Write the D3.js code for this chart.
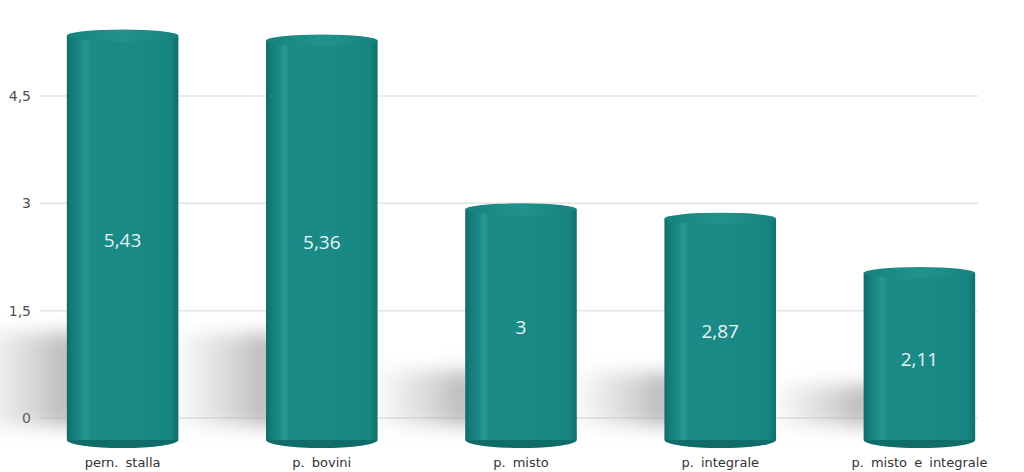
<!DOCTYPE html>
<html>
<head>
<meta charset="utf-8">
<script src="https://cdn.jsdelivr.net/npm/d3@7"></script>
<style>
  html, body { margin: 0; padding: 0; background: #fff; }
  svg { display: block; }
</style>
</head>
<body>
<div id="chart"></div>
<script>
// chart data
const categories = ["pern. stalla", "p. bovini", "p. misto", "p. integrale", "p. misto e integrale"];
const values = [5.43, 5.36, 3, 2.87, 2.11];
const tickValues = [0, 1.5, 3, 4.5];

const width = 1024, height = 472;

const svg = d3.select('#chart').append('svg')
    .attr('width', width)
    .attr('height', height);

// italian number format (comma as decimal)
const it = d3.formatLocale({ decimal: ",", thousands: ".", grouping: [3], currency: ["€", ""] });
const fmt = v => it.format("~g")(v);

const x = d3.scaleBand()
    .domain(categories)
    .range([23, 1019])
    .paddingInner(0.44)
    .paddingOuter(0.22);

const y = d3.scaleLinear()
    .domain([0, 4.5])
    .range([418, 96]);

const defs = svg.append('defs');

// cylinder body gradient
const body = defs.append('linearGradient').attr('id', 'cylBody')
    .attr('x1', '0%').attr('x2', '100%').attr('y1', '0%').attr('y2', '0%');
[
    [0, '#0f6b68'], [0.04, '#137b77'], [0.12, '#1a8a86'], [0.17, '#2a9893'],
    [0.21, '#1b8b87'], [0.6, '#1a8a86'], [0.93, '#178580'], [1, '#116e6b']
].forEach(s => body.append('stop').attr('offset', s[0]).attr('stop-color', s[1]));

const cap = defs.append('linearGradient').attr('id', 'cylCap')
    .attr('x1', '0%').attr('x2', '100%');
[[0, '#16827d'], [0.5, '#22928d'], [1, '#17827e']]
    .forEach(s => cap.append('stop').attr('offset', s[0]).attr('stop-color', s[1]));

const shade = defs.append('linearGradient').attr('id', 'shadowGrad')
    .attr('x1', '0%').attr('x2', '100%');
[[0, '#8a8a8a', 0], [0.6, '#8a8a8a', 0.35], [1, '#7a7a7a', 0.6]]
    .forEach(s => shade.append('stop').attr('offset', s[0]).attr('stop-color', s[1]).attr('stop-opacity', s[2]));

defs.append('filter').attr('id', 'blur')
    .attr('x', '-50%').attr('y', '-50%').attr('width', '200%').attr('height', '200%')
    .append('feGaussianBlur').attr('stdDeviation', 9);

// gridlines
svg.append('g')
    .selectAll('line')
    .data(tickValues)
    .enter().append('line')
    .attr('x1', 40).attr('x2', 978)
    .attr('y1', d => y(d)).attr('y2', d => y(d))
    .attr('stroke', '#e4e4e4')
    .attr('stroke-width', 1.5);

// y tick labels
svg.append('g')
    .selectAll('text')
    .data(tickValues)
    .enter().append('text')
    .attr('x', 31)
    .attr('y', d => y(d) + 5)
    .attr('text-anchor', 'end')
    .style('font-family', '"DejaVu Sans", Verdana, sans-serif')
    .style('font-size', '14px')
    .style('fill', '#505050')
    .text(d => fmt(d));

const data = categories.map((c, i) => ({ cat: c, value: values[i] }));
const bottom = y(0) + 22;
const capRy = 6, baseRy = 8;

// cast shadows on the left of each cylinder
svg.append('g')
    .selectAll('rect')
    .data(data)
    .enter().append('rect')
    .attr('x', d => x(d.cat) - 95)
    .attr('y', d => y(d.value * 0.22))
    .attr('width', 105)
    .attr('height', d => y(0) + 8 - y(d.value * 0.22))
    .attr('fill', 'url(#shadowGrad)')
    .attr('filter', 'url(#blur)');

const bars = svg.append('g')
    .selectAll('g')
    .data(data)
    .enter().append('g');

// base ellipse
bars.append('ellipse')
    .attr('cx', d => x(d.cat) + x.bandwidth() / 2)
    .attr('cy', bottom)
    .attr('rx', x.bandwidth() / 2)
    .attr('ry', baseRy)
    .attr('fill', '#106c69');

// body
bars.append('rect')
    .attr('x', d => x(d.cat))
    .attr('y', d => y(d.value) + capRy)
    .attr('width', x.bandwidth())
    .attr('height', d => bottom - y(d.value) - capRy)
    .attr('fill', 'url(#cylBody)');

// top cap
bars.append('ellipse')
    .attr('cx', d => x(d.cat) + x.bandwidth() / 2)
    .attr('cy', d => y(d.value) + capRy)
    .attr('rx', x.bandwidth() / 2)
    .attr('ry', capRy)
    .attr('fill', 'url(#cylCap)');

// value labels
bars.append('text')
    .attr('x', d => x(d.cat) + x.bandwidth() / 2)
    .attr('y', d => (y(d.value) + bottom) / 2 + 12)
    .attr('text-anchor', 'middle')
    .style('font-family', '"Open Sans", "DejaVu Sans", sans-serif')
    .style('font-size', '19px')
    .style('fill', '#e8f4f3')
    .text(d => fmt(d.value));

// category labels
svg.append('g')
    .selectAll('text')
    .data(categories)
    .enter().append('text')
    .attr('x', d => x(d) + x.bandwidth() / 2)
    .attr('y', 467)
    .attr('text-anchor', 'middle')
    .style('font-family', '"DejaVu Sans", Verdana, sans-serif')
    .style('font-size', '13px')
    .style('fill', '#333')
    .style('word-spacing', '3px')
    .text(d => d);
</script>
</body>
</html>
